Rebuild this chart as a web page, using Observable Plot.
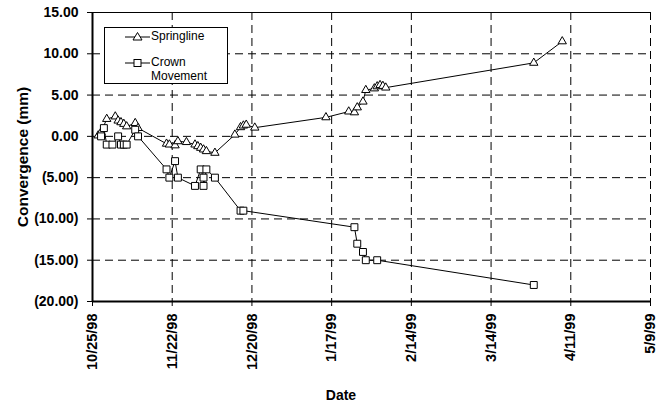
<!DOCTYPE html>
<html><head><meta charset="utf-8">
<script src="https://cdn.jsdelivr.net/npm/d3@7"></script>
<script src="https://cdn.jsdelivr.net/npm/@observablehq/plot@0.6"></script>
<style>
body{margin:0;background:#fff;}
#wrap{position:relative;width:668px;height:404px;font-family:"Liberation Sans",Arial,sans-serif;}
#legend{position:absolute;left:104px;top:27px;width:122px;height:55px;border:1px solid #000;background:#fff;font-size:12px;}
#legend .row{position:absolute;left:20px;}
#legend svg{position:absolute;left:0;top:0;}
#xtitle{position:absolute;left:0;width:682px;top:387px;text-align:center;font-weight:bold;font-size:14px;}
</style></head><body><div id="wrap"></div>
<script>
// Springline convergence (mm)
const springDates = ["1998-10-27","1998-10-28","1998-10-30","1998-11-02","1998-11-03","1998-11-04","1998-11-05","1998-11-06","1998-11-09","1998-11-10","1998-11-20","1998-11-21","1998-11-23","1998-11-24","1998-11-27","1998-11-30","1998-12-01","1998-12-02","1998-12-03","1998-12-04","1998-12-07","1998-12-14","1998-12-16","1998-12-17","1998-12-18","1998-12-21","1999-01-15","1999-01-23","1999-01-25","1999-01-26","1999-01-28","1999-01-29","1999-02-01","1999-02-02","1999-02-03","1999-02-04","1999-02-05","1999-03-29","1999-04-08"];
const springValues = [0.1,0.5,2.1,2.4,1.9,1.7,1.5,1.2,1.6,1.0,-0.9,-1.0,-1.1,-0.6,-0.7,-1.0,-1.2,-1.4,-1.6,-1.8,-2.0,0.2,1.1,1.3,1.4,1.05,2.3,3.0,2.9,3.5,4.2,5.6,5.8,6.05,6.2,6.1,5.9,8.9,11.5];
// Crown movement (mm)
const crownDates = ["1998-10-28","1998-10-29","1998-10-30","1998-11-01","1998-11-03","1998-11-04","1998-11-05","1998-11-06","1998-11-09","1998-11-10","1998-11-20","1998-11-21","1998-11-23","1998-11-24","1998-11-30","1998-12-02","1998-12-03","1998-12-03","1998-12-04","1998-12-07","1998-12-16","1998-12-17","1999-01-25","1999-01-26","1999-01-28","1999-01-29","1999-02-02","1999-03-29"];
const crownValues = [0,1,-1,-1,0,-1,-1,-1,0.8,0,-4,-5,-3,-5,-6,-4,-5,-6,-4,-5,-9,-9,-11,-13,-14,-15,-15,-18];
// Axis ticks
const xTickLabels = ["1998-10-25","1998-11-22","1998-12-20","1999-01-17","1999-02-14","1999-03-14","1999-04-11","1999-05-09"];
const yTicks = [-20,-15,-10,-5,0,5,10,15];

const spring = springDates.map((d,i)=>({date:new Date(d), value:springValues[i]}));
const crown = crownDates.map((d,i)=>({date:new Date(d), value:crownValues[i]}));
const xTicks = xTickLabels.map(d=>new Date(d));
const fmtY = v => v < 0 ? `(${Math.abs(v).toFixed(2)})` : v.toFixed(2);
const fmtX = d3.utcFormat("%-m/%-d/%y");

const chart = Plot.plot({
  width: 668, height: 404,
  marginLeft: 92, marginRight: 18, marginTop: 12, marginBottom: 103,
  style: {fontFamily: '"Liberation Sans", Arial, sans-serif', fontWeight: "bold", fontSize: "14px", background: "#fff", color: "#000"},
  x: {type: "utc", domain: [xTicks[0], xTicks[xTicks.length-1]]},
  y: {domain: [-20, 15]},
  marks: [
    Plot.gridY(yTicks, {stroke: "#000", strokeOpacity: 1, strokeDasharray: "8,5"}),
    Plot.gridX(xTicks, {stroke: "#000", strokeOpacity: 1, strokeDasharray: "8,5"}),
    Plot.ruleY([15], {stroke: "#000", strokeWidth: 1}),
    Plot.axisY({ticks: yTicks, tickFormat: fmtY, tickSize: 5, tickPadding: 9, label: null, fontSize: 14}),
    Plot.axisY({ticks: [], tickSize: 0, label: "Convergence (mm)", labelAnchor: "center", labelOffset: 76, labelArrow: "none", fontSize: 15.5}),
    Plot.axisX({ticks: xTicks, tickFormat: fmtX, tickRotate: -90, tickSize: 5, tickPadding: 7, label: null, fontSize: 14.5}),
    Plot.ruleX([xTicks[0]], {stroke: "#000", strokeWidth: 2}),
    Plot.ruleY([-20], {stroke: "#000", strokeWidth: 2}),
    Plot.line(spring, {x: "date", y: "value", stroke: "#000", strokeWidth: 1}),
    Plot.line(crown, {x: "date", y: "value", stroke: "#000", strokeWidth: 1}),
    Plot.dot(spring, {x: "date", y: "value", symbol: "triangle", r: 3.1, fill: "#fff", stroke: "#000", strokeWidth: 1}),
    Plot.dot(crown, {x: "date", y: "value", symbol: "square", r: 3.9, fill: "#fff", stroke: "#000", strokeWidth: 1})
  ]
});
const wrap = document.getElementById("wrap");
wrap.appendChild(chart);

const legend = document.createElement("div");
legend.id = "legend";
legend.innerHTML = `
<svg width="122" height="55">
  <line x1="20" x2="45" y1="9" y2="9" stroke="#000"/>
  <path d="M32.5,4.5 L37,12 L28,12 Z" fill="#fff" stroke="#000"/>
  <line x1="20" x2="45" y1="35" y2="35" stroke="#000"/>
  <rect x="29" y="31.5" width="7" height="7" fill="#fff" stroke="#000"/>
</svg>
<div class="row" style="left:46px;top:1px;">Springline</div>
<div class="row" style="left:46px;top:27px;line-height:14px;">Crown<br>Movement</div>`;
wrap.appendChild(legend);

const xt = document.createElement("div");
xt.id = "xtitle";
xt.textContent = "Date";
wrap.appendChild(xt);
</script>
</body></html>
